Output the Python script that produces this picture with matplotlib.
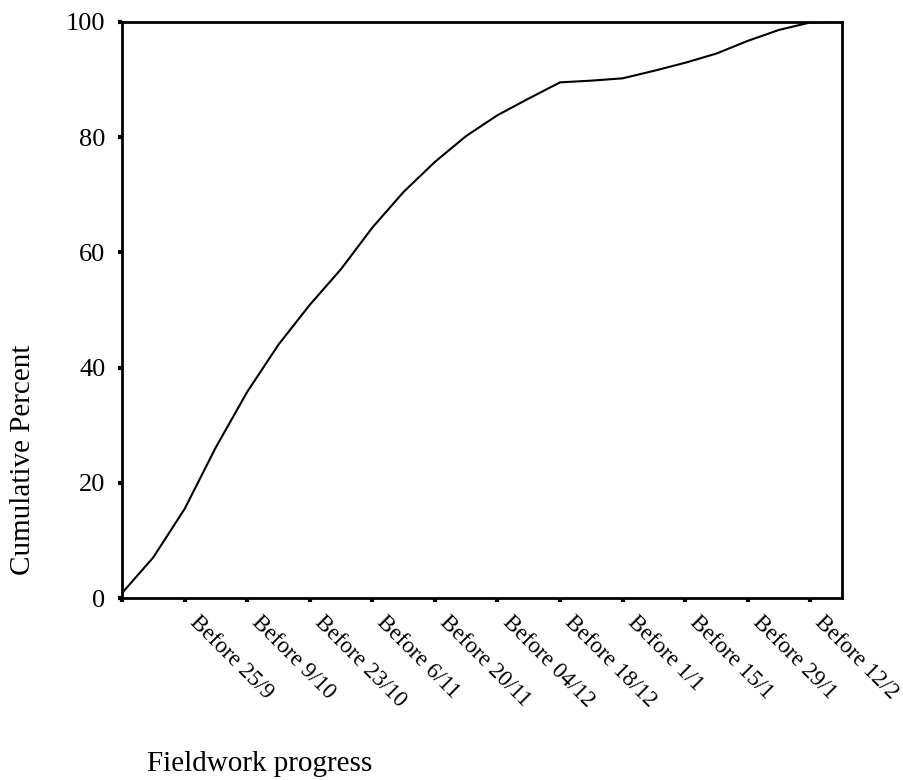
import matplotlib
matplotlib.use("Agg")
import matplotlib.pyplot as plt
from matplotlib.transforms import ScaledTranslation
import numpy as np

# weekly cumulative percent of completed fieldwork
weeks = np.arange(24)
cum_pct = [0.9, 7.1, 15.5, 26.2, 35.8, 44.0, 50.9, 57.1, 64.3, 70.5, 75.7, 80.2,
           83.8, 86.7, 89.5, 89.8, 90.2, 91.5, 92.9, 94.5, 96.7, 98.6, 99.9, 100.0]

tick_weeks = [2, 4, 6, 8, 10, 12, 14, 16, 18, 20, 22]
tick_labels = ["Before 25/9", "Before 9/10", "Before 23/10", "Before 6/11",
               "Before 20/11", "Before 04/12", "Before 18/12", "Before 1/1",
               "Before 15/1", "Before 29/1", "Before 12/2"]
y_ticks = [0, 20, 40, 60, 80, 100]

plt.rcParams['font.family'] = ['Liberation Serif', 'DejaVu Serif']

fig = plt.figure(figsize=(9.04, 7.8), dpi=100)
ax = fig.add_axes([0.135, 0.233, 0.796, 0.739])

ax.plot(weeks, cum_pct, color='black', linewidth=1.5)

ax.set_xlim(0, 23)
ax.set_ylim(0, 100)

ax.set_xticks([0] + tick_weeks)
ax.set_xticklabels([""] + tick_labels, rotation=-45, ha='left', va='center',
                   rotation_mode='anchor', fontsize=16.5)
ax.set_yticks(y_ticks)
ax.set_yticklabels([str(v) for v in y_ticks], fontsize=19)

ax.tick_params(axis='both', direction='out', length=3, width=3, color='black')
ax.tick_params(axis='x', pad=0)
ax.tick_params(axis='y', pad=9)

# shift the slanted labels so they start just right of their tick
offset = ScaledTranslation(0.08, -0.17, fig.dpi_scale_trans)
for lab in ax.get_xticklabels():
    lab.set_transform(lab.get_transform() + offset)

for s in ax.spines.values():
    s.set_linewidth(2)
    s.set_color('black')

fig.text(0.025, 0.41, "Cumulative Percent", rotation=90, ha='center', va='center',
         fontsize=21)
fig.text(0.163, 0.011, "Fieldwork progress", ha='left', va='baseline', fontsize=21)

fig.savefig("out.png", dpi=100)
